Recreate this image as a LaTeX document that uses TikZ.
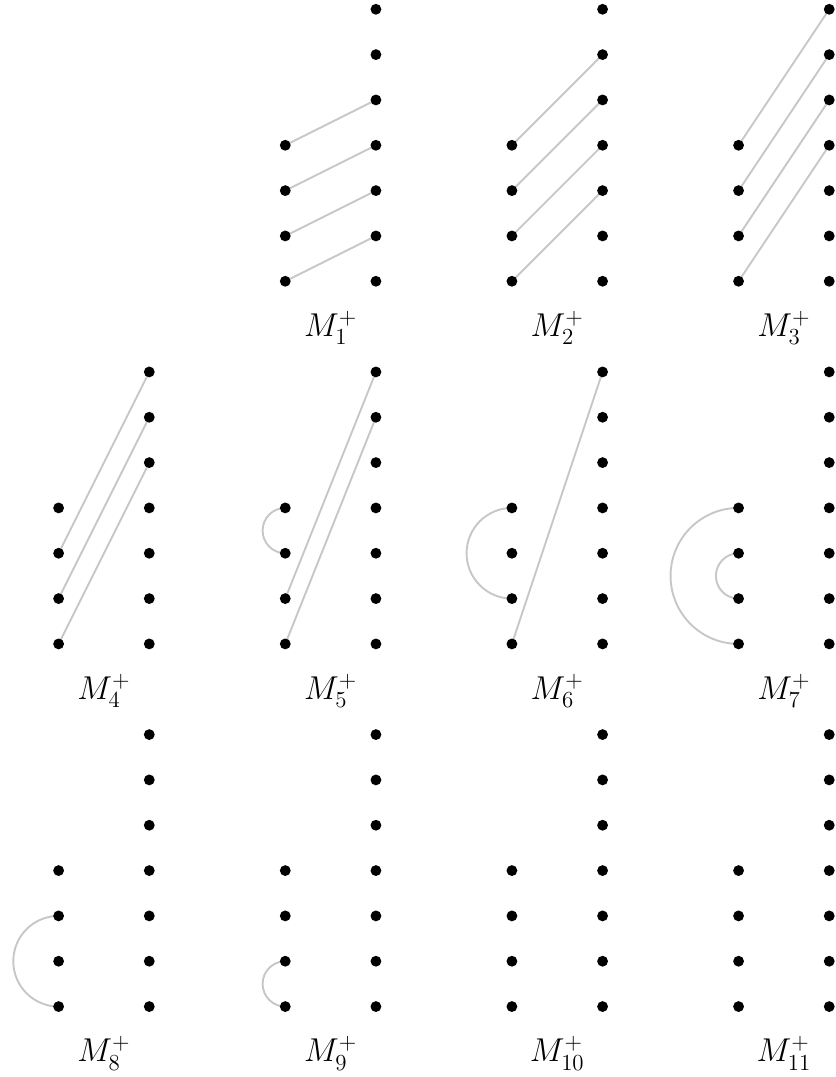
\documentclass[tikz,border=0pt]{standalone}
\usetikzlibrary{backgrounds}
\tikzset{
  dot/.style={circle,fill=black,inner sep=0pt,minimum size=6.8pt},
  link/.style={draw=black!22,line width=1.2pt},
  lab/.style={anchor=base,font=\huge,inner sep=0pt}
}
\begin{document}
\begin{tikzpicture}
\useasboundingbox (-1.293,0.205) rectangle (17.128,-23.554);
\foreach \n in {1,...,11}{
  \pgfmathtruncatemacro\row{int(\n/4)}
  \pgfmathtruncatemacro\col{mod(\n,4)}
  \pgfmathsetmacro\x{5*\col}
  \pgfmathsetmacro\y{-8*\row}
  \foreach \k in {0,...,6}{
    \node[dot] (p\n r\k) at (\x+2,\y-\k) {};
  }
  \foreach \j in {0,...,3}{
    \node[dot] (p\n l\j) at (\x,\y-3-\j) {};
  }
  \node[lab] (m\n) at (\x+1,\y-7.22) {$M_{\n}^{+}$};
}
\begin{pgfonlayer}{background}
  % straight links: left dot j to right dot 3+j-n
  \foreach \n in {1,...,6}{
    \foreach \j in {0,...,3}{
      \pgfmathtruncatemacro\k{3+\j-\n}
      \ifnum\k>-1
        \draw[link] (p\n l\j.center) -- (p\n r\k.center);
      \fi
    }
  }
  % arcs
  \draw[link] (p5l0.center) arc[start angle=90,end angle=270,radius=0.5];
  \draw[link] (p6l0.center) arc[start angle=90,end angle=270,radius=1];
  \draw[link] (p7l0.center) arc[start angle=90,end angle=270,radius=1.5];
  \draw[link] (p7l1.center) arc[start angle=90,end angle=270,radius=0.5];
  \draw[link] (p8l1.center) arc[start angle=90,end angle=270,radius=1];
  \draw[link] (p9l2.center) arc[start angle=90,end angle=270,radius=0.5];
\end{pgfonlayer}
\end{tikzpicture}
\end{document}
